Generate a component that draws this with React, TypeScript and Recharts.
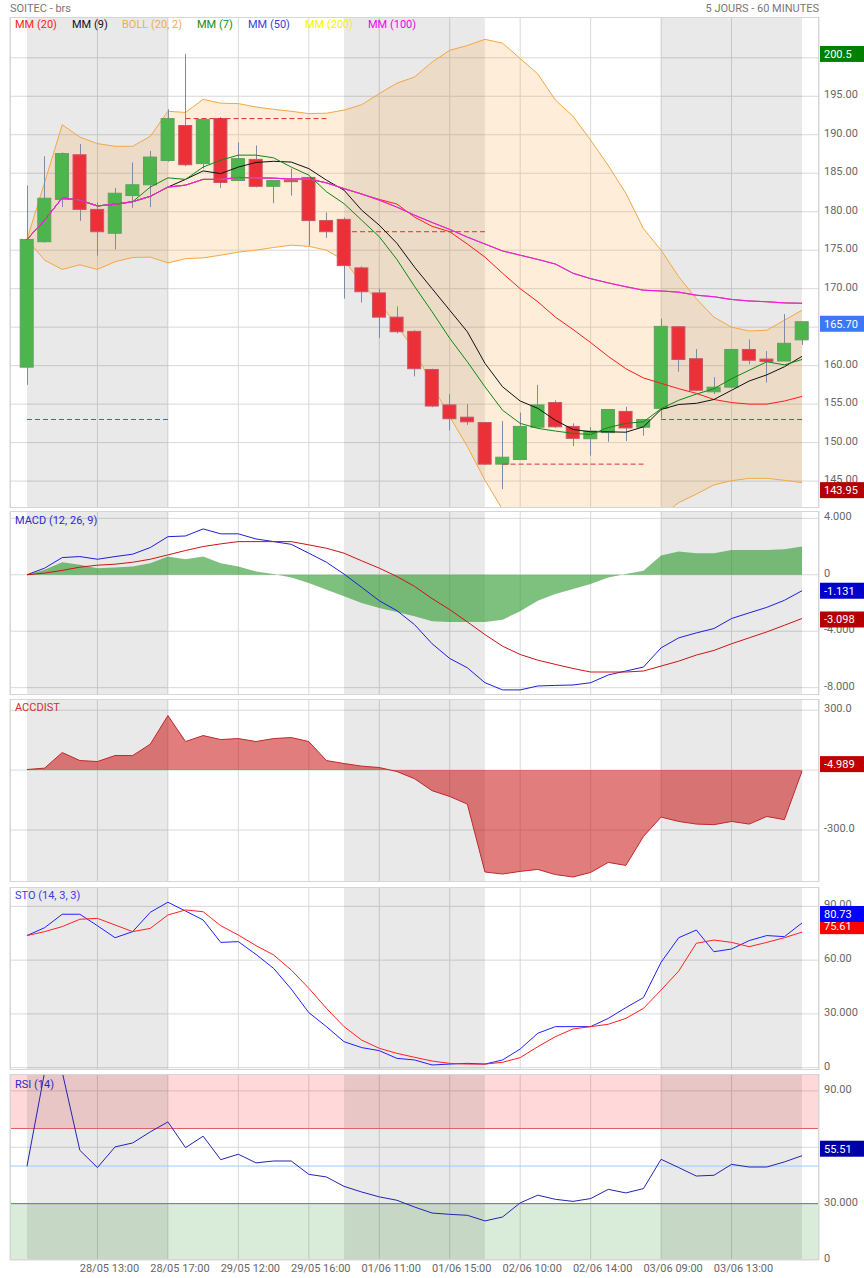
import React from 'react';
import {
  ComposedChart,
  Bar,
  Line,
  Area,
  XAxis,
  YAxis,
  CartesianGrid,
  ReferenceArea,
  ReferenceLine,
} from 'recharts';

// 45 hourly bars, 28/05 09:00 -> 03/06 17:00
const opens = [159.8, 176.1, 181.6, 187.4, 180.3, 177.2, 182.1, 183.5, 186.65, 191.2, 186.25, 192.1, 184.05, 186.8, 183.3, 184.1, 184.45, 178.85, 179.0, 172.7, 169.45, 166.3, 164.45, 159.5, 154.9, 153.3, 152.6, 147.2, 147.8, 152.0, 155.2, 152.1, 150.5, 151.3, 154.05, 152.0, 154.45, 165.05, 160.9, 156.6, 157.2, 162.1, 160.85, 160.6, 163.35];
const highs = [183.4, 187.2, 187.7, 188.8, 181.2, 183.1, 186.4, 187.9, 193.3, 200.5, 192.0, 192.3, 189.0, 188.6, 184.1, 185.6, 184.5, 179.9, 179.25, 172.9, 170.0, 167.7, 164.6, 159.6, 156.3, 155.0, 152.7, 152.8, 153.9, 157.5, 155.5, 152.5, 152.0, 154.3, 154.65, 153.05, 166.1, 165.1, 162.15, 158.5, 162.1, 163.4, 161.9, 166.7, 165.7];
const lows = [157.5, 176.0, 180.6, 178.8, 174.3, 175.1, 180.5, 180.6, 186.5, 185.9, 185.6, 183.1, 184.0, 183.15, 181.1, 182.1, 175.6, 176.6, 168.7, 168.2, 163.6, 164.2, 158.6, 154.6, 151.6, 152.3, 147.1, 143.95, 147.8, 151.9, 151.9, 149.55, 148.3, 150.1, 150.2, 150.9, 153.15, 159.2, 156.7, 156.3, 157.1, 160.2, 157.8, 160.6, 162.7];
const closes = [176.4, 181.75, 187.55, 180.3, 177.4, 182.4, 183.5, 187.1, 192.1, 186.1, 192.0, 183.8, 186.9, 183.3, 184.05, 183.9, 178.85, 177.4, 173.0, 169.6, 166.3, 164.4, 159.6, 154.75, 153.1, 152.7, 147.2, 148.1, 152.1, 154.9, 152.05, 150.55, 151.5, 154.3, 151.9, 153.0, 165.1, 160.8, 156.8, 157.2, 162.1, 160.7, 160.55, 162.9, 165.7];

const mm20 = [176.4, 178.9, 181.8, 181.5, 180.75, 180.97, 181.3, 182.0, 183.2, 183.45, 184.2, 184.2, 184.45, 184.4, 184.35, 184.25, 184.25, 183.75, 183.0, 182.3, 181.6, 181.0, 179.3, 178.1, 177.4, 175.8, 174.1, 172.0, 170.0, 168.3, 166.3, 164.7, 163.0, 161.2, 159.6, 158.4, 157.7, 157.0, 156.4, 155.6, 155.2, 155.0, 155.0, 155.4, 156.0];
const mm9 = [176.4, 178.9, 181.8, 181.5, 180.75, 180.97, 181.3, 182.0, 183.2, 184.2, 185.3, 184.95, 185.8, 186.4, 186.55, 186.45, 185.6, 184.1, 182.8, 180.2, 178.25, 175.9, 172.8, 170.0, 167.2, 164.4, 160.3, 157.25, 155.4, 154.45, 152.9, 151.7, 151.4, 151.4, 151.35, 152.05, 154.3, 154.95, 155.1, 155.6, 156.8, 158.0, 158.8, 159.85, 161.2];
const mm7 = [176.4, 178.9, 181.8, 181.5, 180.75, 180.97, 181.3, 183.2, 184.4, 184.2, 185.8, 186.7, 187.35, 187.35, 187.0, 185.8, 184.75, 182.6, 181.05, 178.9, 176.75, 173.8, 170.3, 167.0, 163.55, 160.5, 157.25, 154.2, 152.5, 151.85, 151.5, 151.2, 151.05, 151.95, 152.5, 152.7, 154.4, 155.5, 156.3, 157.0, 158.3, 159.4, 160.5, 160.1, 160.8];
const mm100 = [176.4, 178.9, 181.8, 181.5, 180.75, 180.97, 181.3, 182.0, 183.2, 183.45, 184.2, 184.2, 184.45, 184.4, 184.35, 184.25, 184.25, 183.75, 183.0, 182.3, 181.5, 180.6, 179.55, 178.6, 177.7, 176.7, 175.8, 174.9, 174.35, 173.8, 173.2, 172.0, 171.3, 170.75, 170.25, 169.8, 169.7, 169.55, 169.15, 168.95, 168.6, 168.4, 168.3, 168.15, 168.1];
// with only 45 bars on screen the 50 and 200 averages sit under the 100 one
const mm50 = mm100;
const mm200 = mm100;

const bollUp = [176.4, 183.8, 191.3, 189.7, 188.85, 188.5, 188.5, 189.8, 193.05, 192.9, 194.6, 194.1, 194.05, 193.6, 193.3, 193.05, 192.75, 192.8, 193.2, 193.9, 195.35, 196.7, 197.5, 199.45, 200.97, 201.6, 202.4, 201.9, 199.9, 197.9, 194.5, 192.4, 189.3, 186.0, 182.4, 177.8, 175.0, 171.55, 168.7, 166.3, 165.0, 164.5, 164.6, 165.9, 167.2];
const bollLow = [176.4, 173.7, 172.5, 173.1, 172.5, 173.5, 174.05, 174.1, 173.35, 173.9, 174.0, 174.35, 174.75, 175.0, 175.35, 175.65, 175.5, 175.0, 173.7, 170.7, 168.2, 165.2, 162.0, 157.5, 153.35, 149.5, 145.1, 141.3, 140.1, 138.7, 138.1, 137.0, 136.7, 136.4, 136.8, 139.0, 140.4, 142.2, 143.3, 144.5, 145.05, 145.35, 145.35, 145.1, 144.8];

const macd = [0, 0.47, 1.22, 1.29, 1.1, 1.29, 1.46, 1.93, 2.7, 2.75, 3.25, 2.9, 2.9, 2.54, 2.35, 2.16, 1.53, 0.89, 0.05, -0.89, -1.84, -2.54, -3.53, -4.89, -5.93, -6.59, -7.65, -8.16, -8.16, -7.88, -7.84, -7.81, -7.65, -7.1, -6.82, -6.54, -5.18, -4.47, -4.12, -3.81, -3.1, -2.7, -2.31, -1.81, -1.131];
const macdSignal = [0, 0.12, 0.31, 0.54, 0.68, 0.75, 0.89, 1.1, 1.41, 1.72, 2.0, 2.19, 2.35, 2.35, 2.35, 2.35, 2.12, 1.88, 1.53, 0.99, 0.47, -0.12, -0.82, -1.69, -2.47, -3.34, -4.24, -5.06, -5.65, -6.05, -6.35, -6.64, -6.89, -6.89, -6.89, -6.82, -6.47, -6.12, -5.69, -5.36, -4.89, -4.47, -4.05, -3.58, -3.098];
const macdHist = [0, 0.35, 0.89, 0.71, 0.47, 0.52, 0.59, 0.82, 1.29, 1.1, 1.29, 0.82, 0.59, 0.24, 0.05, -0.19, -0.59, -1.06, -1.53, -2.0, -2.35, -2.64, -2.94, -3.29, -3.34, -3.34, -3.34, -3.18, -2.59, -1.84, -1.36, -1.01, -0.66, -0.19, 0.05, 0.28, 1.36, 1.65, 1.53, 1.53, 1.76, 1.76, 1.76, 1.81, 2.0];

const accDist = [3, 10, 88, 48, 43, 73, 73, 130, 273, 143, 173, 153, 158, 143, 158, 163, 143, 48, 33, 20, 13, -7, -43, -103, -132, -170, -510, -520, -507, -497, -523, -535, -512, -462, -477, -332, -235, -257, -270, -273, -257, -270, -232, -248, -4.989];

const stoK = [73.7, 78.1, 85.6, 85.6, 79.2, 72.5, 75.9, 86.7, 92.3, 87.4, 82.4, 69.9, 70.3, 63.2, 55.4, 43.9, 30.7, 22.9, 14.5, 11.2, 9.5, 5.2, 4.3, 1.5, 2.0, 2.4, 2.0, 4.3, 10.4, 19.2, 22.9, 22.9, 22.9, 27.5, 33.5, 39.1, 58.8, 72.5, 76.8, 64.7, 66.2, 70.9, 73.7, 73.1, 80.73];
const stoD = [73.7, 75.9, 78.7, 82.8, 83.3, 79.6, 75.9, 77.7, 85.2, 88.0, 87.0, 79.2, 74.0, 68.1, 62.9, 54.5, 44.3, 33.1, 22.9, 15.4, 10.8, 8.0, 5.8, 3.7, 2.4, 2.0, 2.0, 3.0, 5.6, 11.7, 17.3, 21.6, 22.9, 24.2, 27.5, 33.1, 43.3, 53.9, 69.4, 71.2, 69.9, 67.5, 69.9, 72.5, 75.61];

const rsi = [49.9, 100, 100, 58.4, 49.2, 60.2, 62.3, 68.2, 73.5, 59.8, 65.9, 53.4, 56.3, 51.7, 52.7, 52.7, 45.6, 44.2, 39.2, 36.2, 33.6, 31.8, 28.2, 25.0, 24.3, 23.8, 20.8, 22.9, 30.4, 34.5, 32.3, 31.2, 32.7, 37.6, 35.7, 38.0, 53.6, 49.2, 44.7, 45.1, 50.9, 49.5, 49.5, 52.2, 55.51];

const xTicks = [4, 8, 12, 16, 20, 24, 28, 32, 36, 40];
const xTickLabels = ['28/05 13:00', '28/05 17:00', '29/05 12:00', '29/05 16:00', '01/06 11:00', '01/06 15:00', '02/06 10:00', '02/06 14:00', '03/06 09:00', '03/06 13:00'];

// first and last bar of each session, previous close drawn as dashed level
const dayStarts = [0, 9, 18, 27, 36];
const dayEnds = [8, 17, 26, 35, 44];
const prevCloses = [153.0, 192.1, 177.4, 147.2, 153.0];
const shadedDays = [0, 2, 4];

const priceTicks = [145, 150, 155, 160, 165, 170, 175, 180, 185, 190, 195, 200];
const macdTicks = [-8, -4, 0, 4];
const accTicks = [-300, 0, 300];
const oscTicks = [0, 30, 60, 90];
const oscTickLabels = ['0', '30.000', '60.00', '90.00'];

// value flags on the right axis (max, last, min...)
const priceFlags = [
  { value: 200.5, text: '200.5', color: '#008000', shift: 0 },
  { value: 165.7, text: '165.70', color: '#3c78f5', shift: 2 },
  { value: 143.95, text: '143.95', color: '#b30000', shift: 1 },
];
const macdFlags = [
  { value: -1.131, text: '-1.131', color: '#0000cc', shift: 0 },
  { value: -3.098, text: '-3.098', color: '#b40000', shift: 1 },
];
const accFlags = [{ value: -4.989, text: '-4.989', color: '#c00000', shift: -7 }];
const stoFlags = [
  { value: 75.61, text: '75.61', color: '#ff0000', shift: -6 },
  { value: 80.73, text: '80.73', color: '#0000ff', shift: -9 },
];
const rsiFlags = [{ value: 55.51, text: '55.51', color: '#0000aa', shift: -7 }];

const data = closes.map((c, i) => ({
  i,
  range: [lows[i], highs[i]],
  open: opens[i],
  high: highs[i],
  low: lows[i],
  close: c,
  mm20: mm20[i],
  mm9: mm9[i],
  mm7: mm7[i],
  mm50: mm50[i],
  mm200: mm200[i],
  mm100: mm100[i],
  boll: [bollLow[i], bollUp[i]],
  macd: macd[i],
  signal: macdSignal[i],
  hist: macdHist[i],
  acc: accDist[i],
  k: stoK[i],
  d: stoD[i],
  rsi: rsi[i],
}));

const FONT = 'Roboto, sans-serif';
const GRID = '#d9d9d9';
const X_DOMAIN: [number, number] = [-0.965, 44.965];
const MARGIN = { top: 0, right: 0, bottom: 0, left: 10 };
const W = 864;

const PANELS = {
  price: { top: 17, h: 491 },
  macd: { top: 511, h: 184 },
  acc: { top: 699, h: 183 },
  sto: { top: 887, h: 183 },
  rsi: { top: 1074, h: 186 },
};

const legend = [
  { label: 'MM (20)', color: '#ff2020', x: 15 },
  { label: 'MM (9)', color: '#111', x: 72 },
  { label: 'BOLL (20, 2)', color: '#f7a94f', x: 122 },
  { label: 'MM (7)', color: '#168a16', x: 197 },
  { label: 'MM (50)', color: '#3c3cdc', x: 248 },
  { label: 'MM (200)', color: '#f5f500', x: 305 },
  { label: 'MM (100)', color: '#f000f0', x: 368 },
];

type Flag = { value: number; text: string; color: string; shift: number };

const Candle = (props: any) => {
  const { x, y, width, height, payload } = props;
  if (x == null || y == null) return null;
  const { open, close, high, low } = payload;
  const span = high - low || 1;
  const py = (v: number) => y + ((high - v) / span) * height;
  const up = close >= open;
  const top = py(Math.max(open, close));
  const bot = py(Math.min(open, close));
  const cx = Math.round(x + width / 2) + 0.5;
  return (
    <g>
      <line x1={cx} x2={cx} y1={y} y2={y + height} stroke="#7d8ca5" strokeWidth={1} />
      <rect
        x={x}
        y={top}
        width={width}
        height={Math.max(bot - top, 1)}
        fill={up ? '#4cb54c' : '#ec3038'}
        stroke={up ? '#62a062' : '#c8566a'}
        strokeWidth={1}
      />
    </g>
  );
};

// right axis tick: plain label, or a coloured flag for the marked values
const yTick = (fmt: (v: number) => string, flags: Flag[]) => (p: any) => {
  const v = p.payload.value;
  const flag = flags.find((f) => f.value === v);
  if (flag) {
    const cy = p.y + flag.shift;
    return (
      <g>
        <rect x={p.x - 4} y={cy - 8} width={44} height={16} fill={flag.color} />
        <text x={p.x} y={cy + 4} fill="#fff" fontSize={11} fontFamily={FONT}>
          {flag.text}
        </text>
      </g>
    );
  }
  return (
    <text x={p.x} y={p.y + 2} textAnchor="start" fontSize={11} fontFamily={FONT} fill="#666">
      {fmt(v)}
    </text>
  );
};

const xTick = (p: any) => (
  <text x={p.x + 12} y={p.y + 12} textAnchor="middle" fontSize={11} fontFamily={FONT} fill="#666">
    {xTickLabels[xTicks.indexOf(p.payload.value)]}
  </text>
);

const dayShading = () =>
  shadedDays.map((d) => (
    <ReferenceArea
      key={`day-${d}`}
      x1={dayStarts[d]}
      x2={dayEnds[d]}
      fill="#000"
      fillOpacity={0.085}
      stroke="none"
    />
  ));

const rightAxis = (domain: [number, number], ticks: number[], fmt: (v: number) => string, flags: Flag[]) => (
  <YAxis
    orientation="right"
    width={45}
    domain={domain}
    ticks={[...ticks, ...flags.map((f) => f.value)]}
    allowDataOverflow
    axisLine={false}
    tickLine={false}
    tickSize={0}
    tickMargin={5}
    interval={0}
    tick={yTick(fmt, flags)}
  />
);

const oscFmt = (v: number) => oscTickLabels[oscTicks.indexOf(v)];

const panelLabel = (text: string, color: string, top: number) => (
  <div
    style={{
      position: 'absolute',
      left: 15,
      top,
      fontSize: 11,
      lineHeight: '13px',
      color,
      fontFamily: FONT,
      whiteSpace: 'nowrap',
    }}
  >
    {text}
  </div>
);

const App: React.FC = () => {
  return (
    <div
      style={{
        position: 'absolute',
        left: 0,
        top: 0,
        width: W,
        height: 1278,
        background: '#fff',
        fontFamily: FONT,
        overflow: 'hidden',
      }}
    >
      {/* price */}
      <div style={{ position: 'absolute', left: 0, top: PANELS.price.top }}>
        <ComposedChart width={W} height={PANELS.price.h} data={data} margin={MARGIN}>
          <CartesianGrid stroke={GRID} horizontalValues={priceTicks} />
          {dayShading()}
          <XAxis dataKey="i" type="number" domain={X_DOMAIN} ticks={xTicks} allowDataOverflow hide />
          {rightAxis([141.5, 205.3], priceTicks, (v) => v.toFixed(2), priceFlags)}
          <Area
            type="linear"
            dataKey="boll"
            stroke="#f5a742"
            strokeWidth={1}
            fill="#f5a742"
            fillOpacity={0.2}
            dot={false}
            activeDot={false}
            isAnimationActive={false}
          />
          {dayStarts.map((s, k) => (
            <ReferenceLine
              key={`pc-${k}`}
              segment={[
                { x: s, y: prevCloses[k] },
                { x: dayEnds[k], y: prevCloses[k] },
              ]}
              stroke="#e0302f"
              strokeDasharray="5 3"
            />
          ))}
          <Bar dataKey="range" barSize={13} shape={<Candle />} isAnimationActive={false} />
          <Line type="linear" dataKey="mm20" stroke="#ff1a1a" strokeWidth={1} dot={false} activeDot={false} isAnimationActive={false} />
          <Line type="linear" dataKey="mm9" stroke="#111" strokeWidth={1} dot={false} activeDot={false} isAnimationActive={false} />
          <Line type="linear" dataKey="mm7" stroke="#118811" strokeWidth={1} dot={false} activeDot={false} isAnimationActive={false} />
          <Line type="linear" dataKey="mm50" stroke="#2222dd" strokeWidth={1} dot={false} activeDot={false} isAnimationActive={false} />
          <Line type="linear" dataKey="mm200" stroke="#eeee00" strokeWidth={1} dot={false} activeDot={false} isAnimationActive={false} />
          <Line type="linear" dataKey="mm100" stroke="#ff00ff" strokeWidth={1} dot={false} activeDot={false} isAnimationActive={false} />
        </ComposedChart>
      </div>

      {/* MACD */}
      <div style={{ position: 'absolute', left: 0, top: PANELS.macd.top }}>
        <ComposedChart width={W} height={PANELS.macd.h} data={data} margin={MARGIN}>
          <CartesianGrid stroke={GRID} horizontalValues={macdTicks} />
          {dayShading()}
          <XAxis dataKey="i" type="number" domain={X_DOMAIN} ticks={xTicks} allowDataOverflow hide />
          {rightAxis([-8.52, 4.52], macdTicks, (v) => (v === 0 ? '0' : v.toFixed(3)), macdFlags)}
          <Area
            type="linear"
            dataKey="hist"
            baseValue={0}
            stroke="none"
            fill="#2e9a2e"
            fillOpacity={0.62}
            dot={false}
            activeDot={false}
            isAnimationActive={false}
          />
          <Line type="linear" dataKey="macd" stroke="#1e1edc" strokeWidth={1} dot={false} activeDot={false} isAnimationActive={false} />
          <Line type="linear" dataKey="signal" stroke="#cc1414" strokeWidth={1} dot={false} activeDot={false} isAnimationActive={false} />
        </ComposedChart>
      </div>

      {/* ACCDIST */}
      <div style={{ position: 'absolute', left: 0, top: PANELS.acc.top }}>
        <ComposedChart width={W} height={PANELS.acc.h} data={data} margin={MARGIN}>
          <CartesianGrid stroke={GRID} horizontalValues={accTicks} />
          {dayShading()}
          <XAxis dataKey="i" type="number" domain={X_DOMAIN} ticks={xTicks} allowDataOverflow hide />
          {rightAxis([-560, 356], accTicks, (v) => (v === 0 ? '0' : v.toFixed(1)), accFlags)}
          <Area
            type="linear"
            dataKey="acc"
            baseValue={0}
            stroke="#c0282d"
            strokeWidth={1}
            fill="#c80a0a"
            fillOpacity={0.53}
            dot={false}
            activeDot={false}
            isAnimationActive={false}
          />
        </ComposedChart>
      </div>

      {/* STO: a few px of bottom margin so the "0" label is not clipped */}
      <div style={{ position: 'absolute', left: 0, top: PANELS.sto.top }}>
        <ComposedChart width={W} height={PANELS.sto.h + 4} data={data} margin={{ ...MARGIN, bottom: 4 }}>
          <CartesianGrid stroke={GRID} horizontalValues={oscTicks} />
          {dayShading()}
          <XAxis dataKey="i" type="number" domain={X_DOMAIN} ticks={xTicks} allowDataOverflow hide />
          {rightAxis([-1.3, 100.8], oscTicks, oscFmt, stoFlags)}
          <Line type="linear" dataKey="k" stroke="#2020ff" strokeWidth={1} dot={false} activeDot={false} isAnimationActive={false} />
          <Line type="linear" dataKey="d" stroke="#ff2020" strokeWidth={1} dot={false} activeDot={false} isAnimationActive={false} />
        </ComposedChart>
      </div>

      {/* RSI */}
      <div style={{ position: 'absolute', left: 0, top: PANELS.rsi.top }}>
        <ComposedChart width={W} height={PANELS.rsi.h + 18} data={data} margin={MARGIN}>
          <CartesianGrid stroke={GRID} horizontalValues={oscTicks} />
          <ReferenceArea y1={70} y2={99} fill="#ff0000" fillOpacity={0.15} stroke="none" />
          <ReferenceArea y1={0} y2={30} fill="#008000" fillOpacity={0.15} stroke="none" />
          {dayShading()}
          <XAxis
            dataKey="i"
            type="number"
            domain={X_DOMAIN}
            ticks={xTicks}
            allowDataOverflow
            interval={0}
            height={18}
            axisLine={false}
            tickLine={false}
            tickSize={0}
            tickMargin={0}
            tick={xTick}
          />
          {rightAxis([0, 99], oscTicks, oscFmt, rsiFlags)}
          <ReferenceLine y={70} stroke="#e06060" />
          <ReferenceLine y={50} stroke="#99ccff" />
          <ReferenceLine y={30} stroke="#4a9a4a" />
          <Line type="linear" dataKey="rsi" stroke="#2323b4" strokeWidth={1} dot={false} activeDot={false} isAnimationActive={false} />
        </ComposedChart>
      </div>

      {/* panel frames */}
      {Object.values(PANELS).map((p, k) => (
        <div
          key={`frame-${k}`}
          style={{
            position: 'absolute',
            left: 10,
            top: p.top,
            width: 809,
            height: p.h,
            border: '1px solid #d6d6d6',
            boxSizing: 'border-box',
            pointerEvents: 'none',
          }}
        />
      ))}

      {/* titles and legends */}
      <div style={{ position: 'absolute', left: 10, top: 2, fontSize: 11, lineHeight: '13px', color: '#777' }}>
        SOITEC - brs
      </div>
      <div style={{ position: 'absolute', right: 45, top: 2, fontSize: 11, lineHeight: '13px', color: '#777' }}>
        5 JOURS - 60 MINUTES
      </div>
      {legend.map((l) => (
        <div
          key={l.label}
          style={{
            position: 'absolute',
            left: l.x,
            top: 18,
            fontSize: 11,
            lineHeight: '13px',
            color: l.color,
            whiteSpace: 'nowrap',
          }}
        >
          {l.label}
        </div>
      ))}
      {panelLabel('MACD (12, 26, 9)', '#2a2ad0', 514)}
      {panelLabel('ACCDIST', '#d03030', 701)}
      {panelLabel('STO (14, 3, 3)', '#3a3ae0', 889)}
      {panelLabel('RSI (14)', '#2a2ac0', 1078)}
    </div>
  );
};

export default App;
